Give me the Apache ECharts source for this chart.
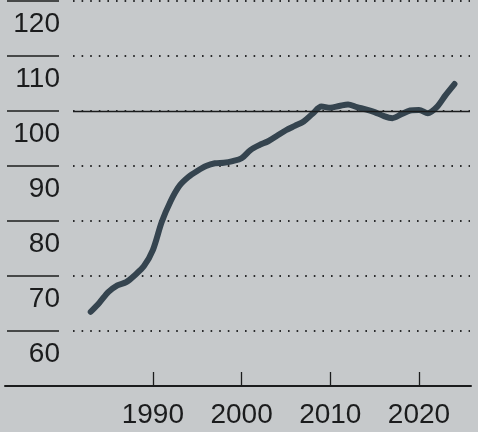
<!DOCTYPE html>
<html>
<head>
<meta charset="utf-8">
<script src="https://cdn.jsdelivr.net/npm/echarts@6/dist/echarts.min.js"></script>
<style>
  html, body { margin: 0; padding: 0; background: #c6c9cb; }
  #chart { width: 478px; height: 432px; }
</style>
</head>
<body>
<div id="chart"></div>
<script>
const years = [
  1983, 1984, 1985, 1986, 1987, 1988, 1989, 1990, 1991, 1992,
  1993, 1994, 1995, 1996, 1997, 1998, 1999, 2000, 2001, 2002,
  2003, 2004, 2005, 2006, 2007, 2008, 2009, 2010, 2011, 2012,
  2013, 2014, 2015, 2016, 2017, 2018, 2019, 2020, 2021, 2022,
  2023, 2024
];
const values = [
  63.5, 65.2, 67.1, 68.3, 68.9, 70.2, 71.8, 74.7, 79.8, 83.6,
  86.4, 88.0, 89.1, 90.0, 90.5, 90.6, 90.9, 91.4, 92.9, 93.8,
  94.5, 95.5, 96.5, 97.3, 98.1, 99.5, 100.8, 100.6, 100.9, 101.2,
  100.7, 100.3, 99.8, 99.1, 98.7, 99.4, 100.1, 100.2, 99.6, 100.7,
  102.9, 104.9
];
const yTicks = [50, 60, 70, 80, 90, 100, 110, 120];
const xTickLabels = [1990, 2000, 2010, 2020];
const baseline = 100;

const ink = '#1b1c1d';
const lineColor = '#35444f';
const font = 'Liberation Sans, Arial, sans-serif';

const chart = echarts.init(document.getElementById('chart'));
chart.setOption({
  backgroundColor: '#c6c9cb',
  animation: false,
  grid: [
    // full width: bottom axis line + left label column
    { left: 5, right: 7, top: 1, bottom: 46 },
    // plot area
    { left: 73, right: 8, top: 1, bottom: 46 }
  ],
  xAxis: [
    {
      gridIndex: 0, type: 'value', min: 0, max: 1,
      axisLine: { show: true, lineStyle: { color: ink, width: 2 } },
      axisTick: { show: false }, axisLabel: { show: false }, splitLine: { show: false }
    },
    {
      gridIndex: 1, type: 'value', min: 1981, max: 2025.75,
      axisLine: { show: false },
      axisTick: {
        show: true, inside: true, length: 14, customValues: xTickLabels,
        lineStyle: { color: ink, width: 1.3 }
      },
      axisLabel: {
        show: true, customValues: xTickLabels, margin: 15,
        color: ink, fontSize: 28, fontFamily: font,
        formatter: v => String(v)
      },
      splitLine: { show: false }
    }
  ],
  yAxis: [
    {
      gridIndex: 0, type: 'value', min: yTicks[0], max: yTicks[yTicks.length - 1], interval: 10,
      offset: -2,
      axisLine: { show: false },
      axisTick: { show: true, inside: true, length: 52, lineStyle: { color: ink, width: 1.6 } },
      axisLabel: {
        show: true, inside: true, align: 'right', margin: 53,
        verticalAlign: 'top', lineHeight: 46,
        showMinLabel: false, showMaxLabel: true,
        color: ink, fontSize: 28, fontFamily: font
      },
      splitLine: { show: false }
    },
    {
      gridIndex: 1, type: 'value', min: yTicks[0], max: yTicks[yTicks.length - 1], interval: 10,
      axisLine: { show: false }, axisTick: { show: false }, axisLabel: { show: false },
      splitLine: { show: true, lineStyle: { color: '#2a2b2c', width: 2, type: [1.6, 7] } }
    }
  ],
  series: [
    {
      type: 'line', xAxisIndex: 1, yAxisIndex: 1, data: [], z: 1,
      markLine: {
        silent: true, symbol: 'none', label: { show: false },
        lineStyle: { color: ink, width: 1.3, type: 'solid' },
        data: [{ yAxis: baseline }]
      }
    },
    {
      type: 'line', xAxisIndex: 1, yAxisIndex: 1, z: 3,
      data: years.map((y, i) => [y, values[i]]),
      showSymbol: false, smooth: 0.3,
      lineStyle: { color: lineColor, width: 6, cap: 'round', join: 'round' }
    }
  ]
});
</script>
</body>
</html>
